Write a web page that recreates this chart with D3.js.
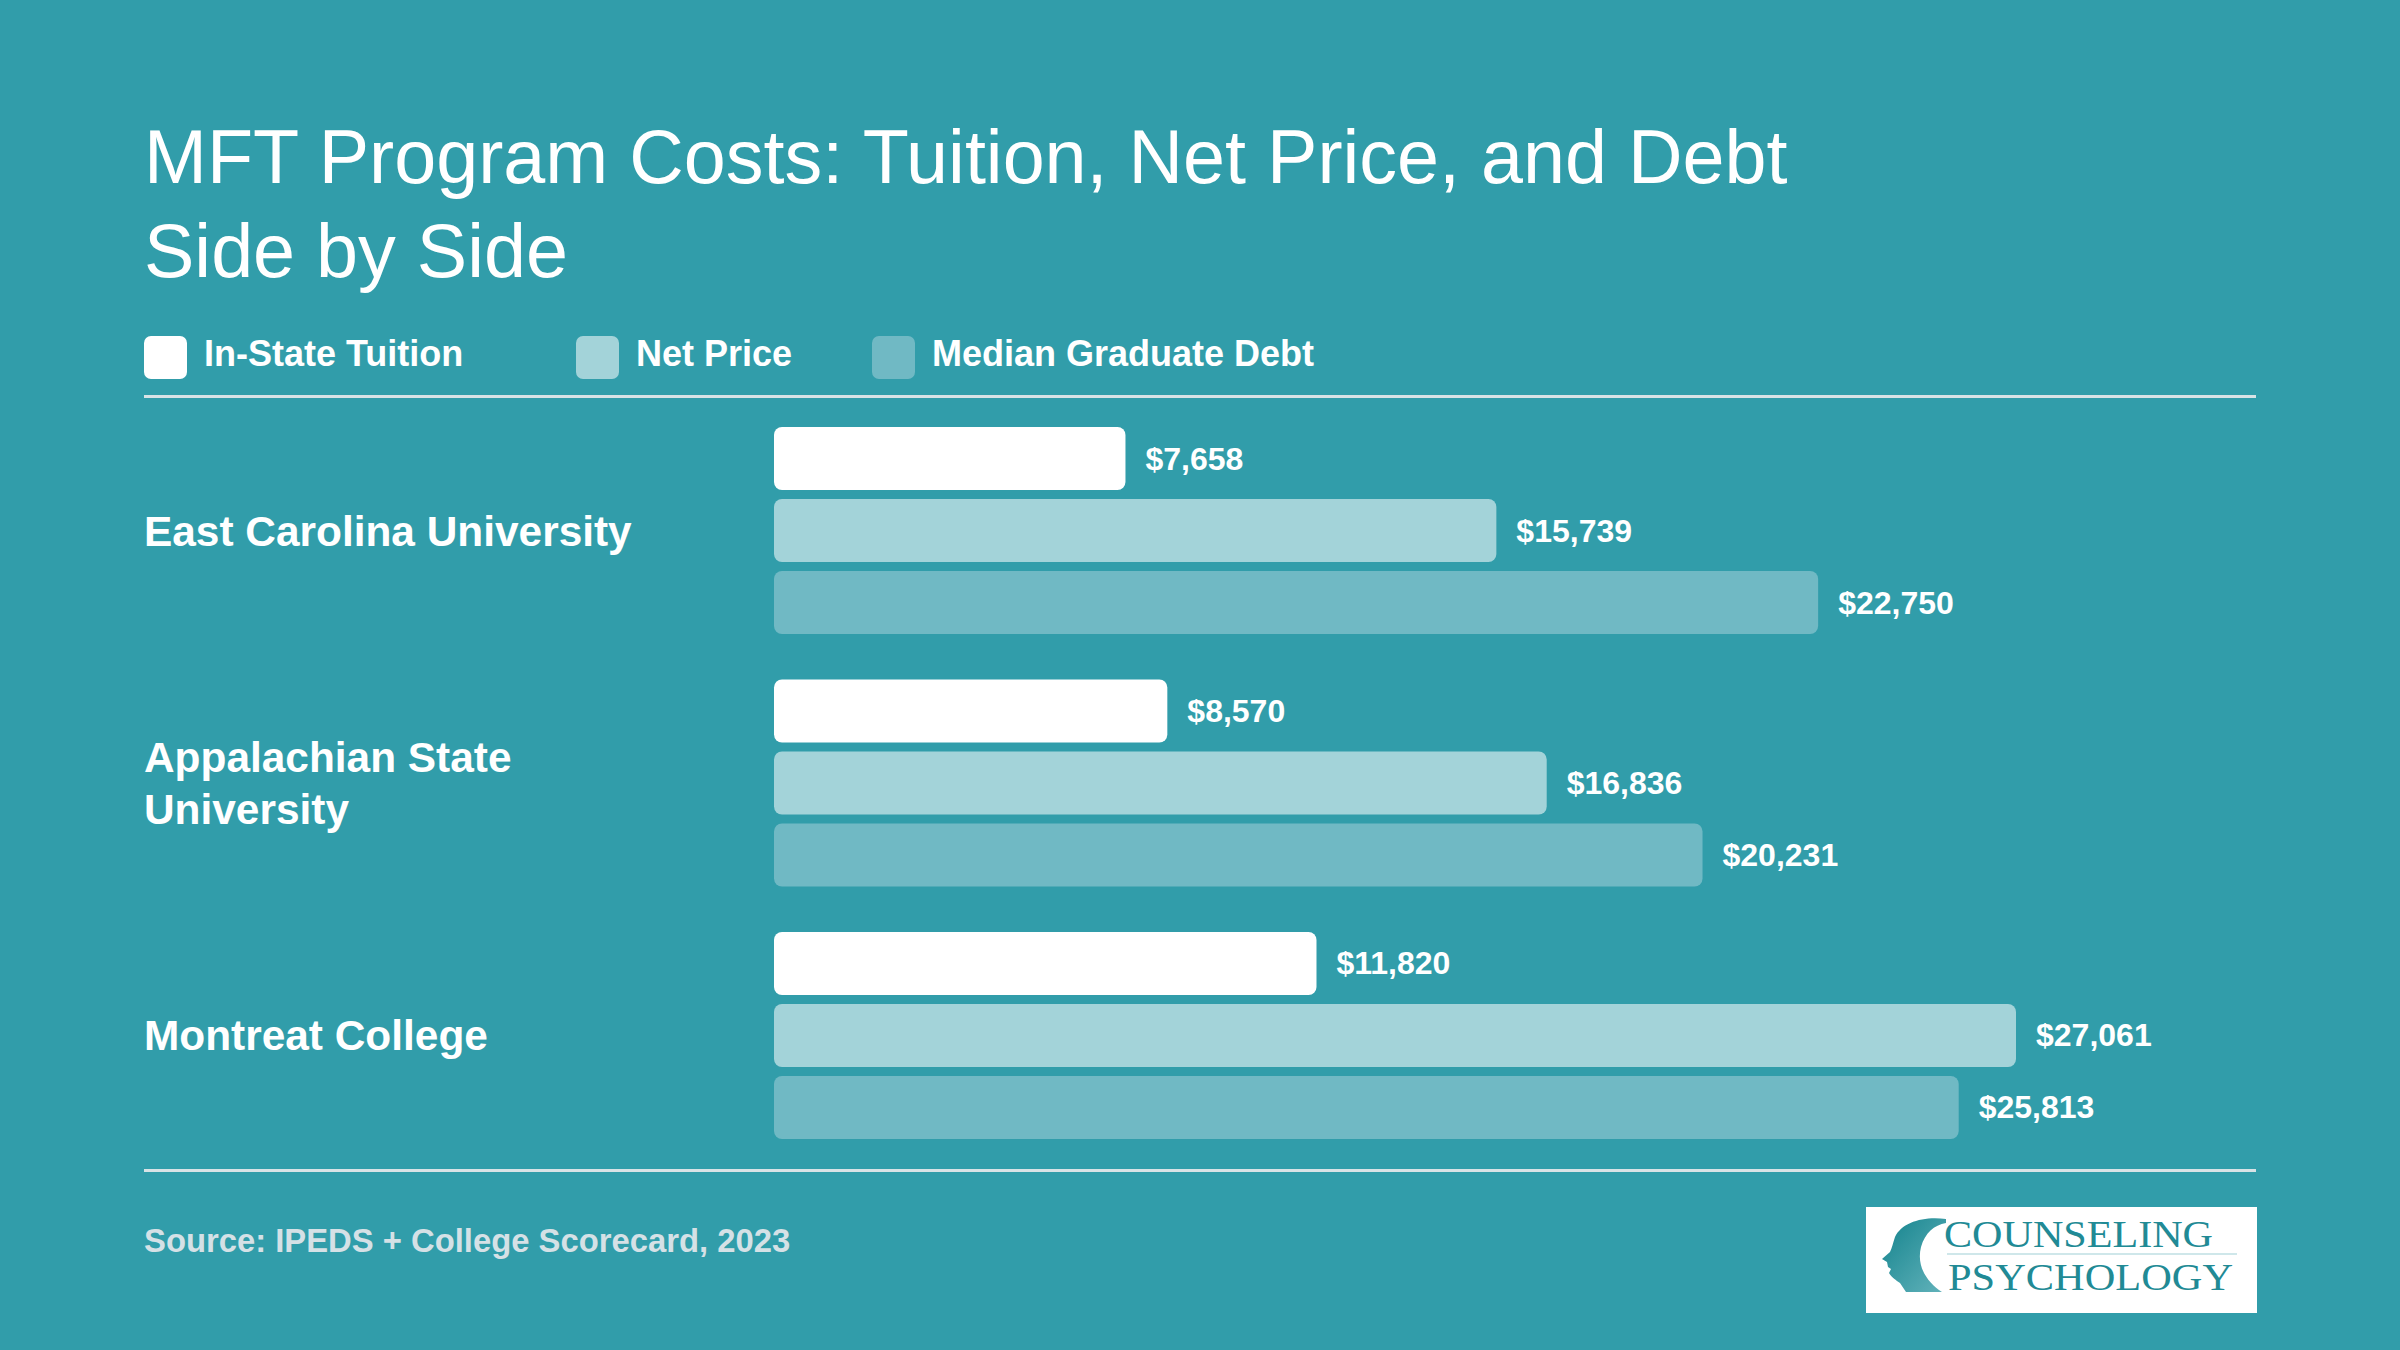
<!DOCTYPE html>
<html lang="en">
<head>
    <meta charset="UTF-8">
    <title>MFT Program Costs</title>
    <script src="https://d3js.org/d3.v7.min.js"></script>
    <style>
        body { margin: 0; background: #319daa; }
        svg { display: block; font-family: "Liberation Sans", Arial, Helvetica, sans-serif; }
    </style>
</head>
<body>
    <div id="chart"></div>

    <script>
        // data
        const schools = ["East Carolina University", "Appalachian State University", "Montreat College"];
        const series = ["In-State Tuition", "Net Price", "Median Graduate Debt"];
        const tuition = [7658, 8570, 11820];
        const netPrice = [15739, 16836, 27061];
        const medianDebt = [22750, 20231, 25813];
        const titleLines = ["MFT Program Costs: Tuition, Net Price, and Debt", "Side by Side"];
        const sourceText = "Source: IPEDS + College Scorecard, 2023";

        const colors = { "In-State Tuition": "#ffffff", "Net Price": "#a3d3d9", "Median Graduate Debt": "#70b9c4" };

        const W = 2400, H = 1350;
        const left = 144, right = 2256;

        const svg = d3.select("#chart").append("svg")
            .attr("width", W)
            .attr("height", H);

        svg.append("rect").attr("width", W).attr("height", H).attr("fill", "#319daa");

        // title
        svg.append("g").selectAll("text")
            .data(titleLines)
            .enter().append("text")
            .attr("x", left)
            .attr("y", (d, i) => 183 + i * 94)
            .attr("fill", "#ffffff")
            .style("font-size", "75.5px")
            .text(d => d);

        // legend
        const legendX = [144, 576, 872];
        const legend = svg.append("g").selectAll("g")
            .data(series)
            .enter().append("g")
            .attr("transform", (d, i) => `translate(${legendX[i]},336)`);

        legend.append("rect")
            .attr("width", 43)
            .attr("height", 43)
            .attr("rx", 7)
            .attr("fill", d => colors[d]);

        legend.append("text")
            .attr("x", 60)
            .attr("y", 30)
            .attr("fill", "#ffffff")
            .style("font-size", "36px")
            .style("font-weight", "bold")
            .text(d => d);

        // rules
        [396.5, 1170.5].forEach(y => {
            svg.append("line")
                .attr("x1", left).attr("x2", right)
                .attr("y1", y).attr("y2", y)
                .attr("stroke", "#d8e3e6")
                .attr("stroke-width", 3);
        });

        // bars
        const rows = schools.map((s, i) => ({
            school: s,
            values: [tuition[i], netPrice[i], medianDebt[i]].map((v, j) => ({ key: series[j], value: v }))
        }));

        const x = d3.scaleLinear()
            .domain([0, d3.max(rows, r => d3.max(r.values, v => v.value))])
            .range([774, 2016]);

        const y0 = d3.scaleBand()
            .domain(schools)
            .range([427, 1139])
            .paddingInner(0.18);

        const y1 = d3.scaleBand()
            .domain(series)
            .range([0, y0.bandwidth()])
            .paddingInner(0.125);

        const group = svg.append("g").selectAll("g")
            .data(rows)
            .enter().append("g")
            .attr("transform", d => `translate(0,${y0(d.school)})`);

        group.selectAll("rect")
            .data(d => d.values)
            .enter().append("rect")
            .attr("x", x(0))
            .attr("y", d => y1(d.key))
            .attr("width", d => x(d.value) - x(0))
            .attr("height", y1.bandwidth())
            .attr("rx", 8)
            .attr("fill", d => colors[d.key]);

        const fmt = d3.format("$,");
        group.selectAll("text.value")
            .data(d => d.values)
            .enter().append("text")
            .attr("class", "value")
            .attr("x", d => x(d.value) + 20)
            .attr("y", d => y1(d.key) + y1.bandwidth() / 2 + 11)
            .attr("fill", "#ffffff")
            .style("font-size", "32px")
            .style("font-weight", "bold")
            .text(d => fmt(d.value));

        // school labels, wrapped
        const labels = group.append("text")
            .attr("x", left)
            .attr("fill", "#ffffff")
            .style("font-size", "42.4px")
            .style("font-weight", "bold");

        labels.each(function(d) {
            const t = d3.select(this);
            const words = d.school.split(" ");
            const lines = [];
            let line = [];
            const probe = t.append("tspan");
            words.forEach(w => {
                line.push(w);
                probe.text(line.join(" "));
                if (probe.node().getComputedTextLength() > 540 && line.length > 1) {
                    line.pop();
                    lines.push(line.join(" "));
                    line = [w];
                }
            });
            lines.push(line.join(" "));
            probe.remove();
            const lh = 52;
            const startY = y0.bandwidth() / 2 + 15 - (lines.length - 1) * lh / 2;
            lines.forEach((l, i) => {
                t.append("tspan").attr("x", left).attr("y", startY + i * lh).text(l);
            });
        });

        // source
        svg.append("text")
            .attr("x", left)
            .attr("y", 1252)
            .attr("fill", "#d5e1e6")
            .style("font-size", "32.8px")
            .style("font-weight", "bold")
            .text(sourceText);

        // logo
        const logo = svg.append("g").attr("transform", "translate(1866,1207)");
        const grad = svg.append("defs").append("linearGradient")
            .attr("id", "headGrad")
            .attr("x1", "0").attr("y1", "0").attr("x2", "1").attr("y2", "1");
        grad.append("stop").attr("offset", "0%").attr("stop-color", "#14838d");
        grad.append("stop").attr("offset", "100%").attr("stop-color", "#63b3bb");

        logo.append("rect").attr("width", 391).attr("height", 106).attr("fill", "#ffffff");
        logo.append("path")
            .attr("d", "M80,12 C58,9 36,15 29,30 C27,36 26,41 24,45 L16,52 L21,55 L22,60 L25,62 L23,66 C26,71 30,73 34,76 L40,85 L76,85 C62,76 50,60 55,40 C59,26 68,18 80,16 Z")
            .attr("fill", "url(#headGrad)");

        logo.append("line")
            .attr("x1", 81).attr("x2", 371)
            .attr("y1", 47).attr("y2", 47)
            .attr("stroke", "#cfe7ea")
            .attr("stroke-width", 2);

        logo.append("text")
            .attr("x", 78).attr("y", 40)
            .attr("textLength", 269).attr("lengthAdjust", "spacingAndGlyphs")
            .attr("fill", "#218a95")
            .style("font-family", "'Liberation Serif', 'DejaVu Serif', serif")
            .style("font-size", "38px")
            .text("COUNSELING");

        logo.append("text")
            .attr("x", 82).attr("y", 83)
            .attr("textLength", 285).attr("lengthAdjust", "spacingAndGlyphs")
            .attr("fill", "#218a95")
            .style("font-family", "'Liberation Serif', 'DejaVu Serif', serif")
            .style("font-size", "38px")
            .text("PSYCHOLOGY");
    </script>
</body>
</html>
